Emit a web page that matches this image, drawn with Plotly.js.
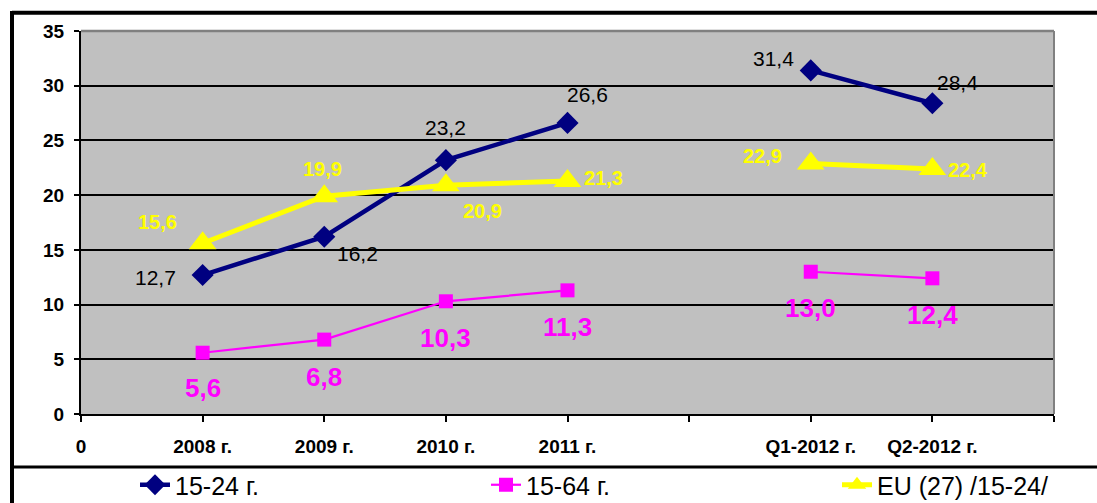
<!DOCTYPE html>
<html><head><meta charset="utf-8">
<script src="https://cdn.plot.ly/plotly-3.0.1.min.js"></script>
<style>html,body{margin:0;padding:0;background:#fff;overflow:hidden;} #chart{width:1097px;height:503px;}</style>
</head><body><div id="chart"></div>
<script>
// ---- data ----
const axisKeys   = ["p0", "p2008", "p2009", "p2010", "p2011", "pgap", "pQ1", "pQ2", "pend"];
const axisLabels = ["0", "2008 г.", "2009 г.", "2010 г.", "2011 г.", "", "Q1-2012 г.", "Q2-2012 г.", ""];
const periods    = ["p2008", "p2009", "p2010", "p2011", "pgap", "pQ1", "pQ2"];
const youth      = [12.7, 16.2, 23.2, 26.6, null, 31.4, 28.4];
const working    = [5.6, 6.8, 10.3, 11.3, null, 13.0, 12.4];
const eu27       = [15.6, 19.9, 20.9, 21.3, null, 22.9, 22.4];
const seriesNames = ["15-24 г.", "15-64 г.", "EU (27) /15-24/"];

// ---- label offsets (px, dx right / dy down) ----
const youthShift   = [[-47, 2], [33, 17], [0, -33], [20, -28], null, [-37, -12], [25, -21]];
const workingShift = [[0, 35], [0, 37], [0, 37], [0, 37], null, [0, 36], [0, 37]];
const euShift      = [[-45, -21], [-2, -27], [37, 26], [36, -3], null, [-48, -7], [36, 1]];

const FONT = 'Arial, "Liberation Sans", sans-serif';
const fmt = v => v.toFixed(1).replace('.', ',');

const traces = [
  {x: periods, y: youth, name: seriesNames[0], type: 'scatter', mode: 'lines+markers',
   line: {color: '#000080', width: 4.5}, marker: {symbol: 'diamond', size: 17, color: '#000080'},
   connectgaps: false, hoverinfo: 'skip', legendwidth: 306},
  {x: periods, y: working, name: seriesNames[1], type: 'scatter', mode: 'lines+markers',
   line: {color: '#FF00FF', width: 2.2}, marker: {symbol: 'square', size: 14, color: '#FF00FF'},
   connectgaps: false, hoverinfo: 'skip', legendwidth: 306},
  {x: periods, y: eu27, name: seriesNames[2], type: 'scatter', mode: 'lines+markers',
   line: {color: '#FFFF00', width: 5}, marker: {symbol: 'triangle-up', size: 24, color: '#FFFF00'},
   connectgaps: false, hoverinfo: 'skip'}
];

function labels(vals, shifts, font) {
  const out = [];
  vals.forEach((v, i) => {
    if (v === null) return;
    out.push({x: periods[i], y: v, xref: 'x', yref: 'y', text: fmt(v), showarrow: false,
      xanchor: 'center', yanchor: 'middle', xshift: shifts[i][0], yshift: -shifts[i][1], font: font});
  });
  return out;
}
const annotations = [].concat(
  labels(youth, youthShift, {family: FONT, size: 21, color: '#000000'}),
  labels(working, workingShift, {family: FONT, size: 26, color: '#FF00FF', weight: 'bold'}),
  labels(eu27, euShift, {family: FONT, size: 20, color: '#FFFF00', weight: 'bold'})
);

// frame geometry in paper units (plot area 81..1054 x, 31..414 y)
const W = 973, H = 383;
const px = v => (v - 81) / W;
const py = v => (414 - v) / H;

const layout = {
  width: 1097, height: 503,
  margin: {l: 81, r: 43, t: 31, b: 89, pad: 0, autoexpand: false},
  paper_bgcolor: '#FFFFFF', plot_bgcolor: '#C0C0C0',
  font: {family: FONT, color: '#000000'},
  showlegend: true,
  legend: {orientation: 'h', x: px(135), xanchor: 'left', y: py(485), yanchor: 'middle',
    font: {family: FONT, size: 25, color: '#000000'},
    bgcolor: 'rgba(0,0,0,0)', borderwidth: 0, traceorder: 'normal', itemclick: false, itemdoubleclick: false},
  xaxis: {type: 'category', categoryorder: 'array', categoryarray: axisKeys, range: [0, 8],
    tickmode: 'array', tickvals: axisKeys, ticktext: axisLabels,
    ticks: 'outside', ticklen: 6, tickwidth: 2, tickcolor: '#000000',
    showline: true, linecolor: '#000000', linewidth: 2, showgrid: false, zeroline: false,
    tickfont: {family: FONT, size: 19, color: '#000000', weight: 'bold'}, ticklabelstandoff: 8, fixedrange: true},
  yaxis: {range: [0, 35], tickmode: 'linear', tick0: 0, dtick: 5,
    ticks: 'outside', ticklen: 5, tickwidth: 2, tickcolor: '#000000',
    showline: true, linecolor: '#000000', linewidth: 2,
    showgrid: true, gridcolor: '#000000', gridwidth: 2, zeroline: false,
    tickfont: {family: FONT, size: 19, color: '#000000', weight: 'bold'}, ticklabelstandoff: 6, fixedrange: true},
  shapes: [
    {type: 'line', xref: 'paper', yref: 'paper', x0: 0, x1: 1, y0: 1, y1: 1, line: {color: '#808080', width: 2.5}, layer: 'above'},
    {type: 'line', xref: 'paper', yref: 'paper', x0: 1, x1: 1, y0: 0, y1: 1, line: {color: '#808080', width: 2}, layer: 'above'},
    {type: 'line', xref: 'paper', yref: 'paper', x0: px(12), x1: px(1110), y0: py(12.8), y1: py(12.8), line: {color: '#000000', width: 4}},
    {type: 'line', xref: 'paper', yref: 'paper', x0: px(12), x1: px(12), y0: py(11), y1: py(520), line: {color: '#000000', width: 4}},
    {type: 'line', xref: 'paper', yref: 'paper', x0: px(12), x1: px(1110), y0: py(467), y1: py(467), line: {color: '#000000', width: 3}}
  ],
  annotations: annotations
};

Plotly.newPlot('chart', traces, layout, {staticPlot: true, displayModeBar: false});
</script>
</body></html>
